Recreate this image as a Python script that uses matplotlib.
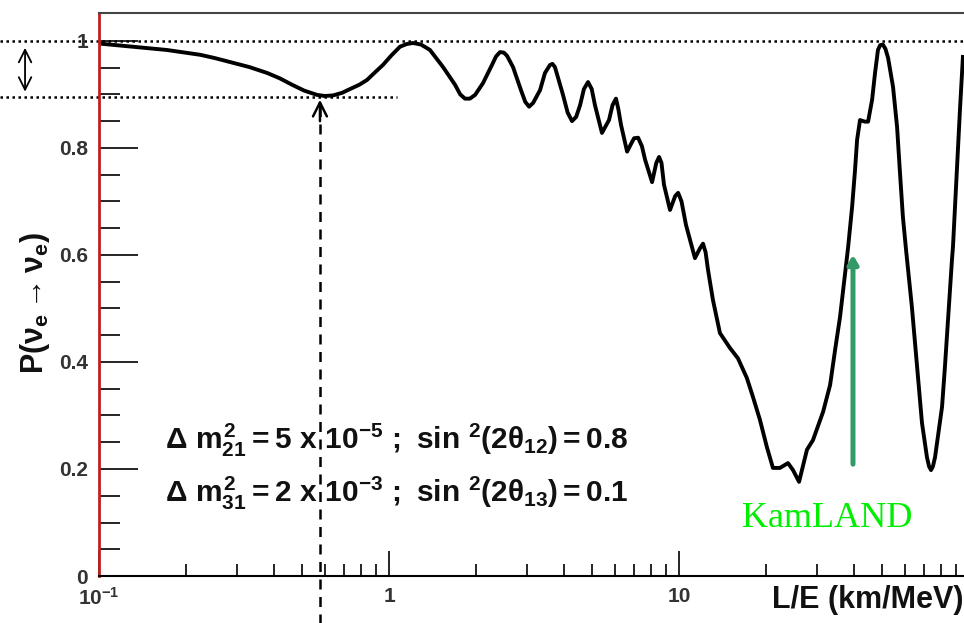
import matplotlib
matplotlib.use('Agg')
import matplotlib.pyplot as plt
import numpy as np

plt.rcParams['font.family'] = ['Liberation Sans', 'DejaVu Sans']
plt.rcParams['font.weight'] = 'bold'
plt.rcParams['mathtext.fontset'] = 'custom'
for k in ['rm', 'it', 'bf', 'sf']:
    plt.rcParams['mathtext.' + k] = 'Liberation Sans:bold'

# survival probability, L/E in km/MeV
le = [0.1, 0.131, 0.171, 0.223, 0.25, 0.290, 0.33, 0.380, 0.42, 0.463,
      0.51, 0.565, 0.60, 0.641, 0.69, 0.734, 0.79, 0.840, 0.89, 0.953,
      1.02, 1.091, 1.15, 1.210, 1.29, 1.384, 1.536, 1.689, 1.76, 1.828,
      1.90, 1.981, 2.109, 2.265, 2.34, 2.415, 2.49, 2.553, 2.677, 2.851,
      2.95, 3.041, 3.14, 3.318, 3.45, 3.591, 3.66, 3.734, 3.981, 4.13,
      4.276, 4.42, 4.560, 4.70, 4.856, 5.0, 5.130, 5.424, 5.736, 5.9,
      6.063, 6.18, 6.310, 6.622, 6.887, 7.0, 7.228, 7.45, 7.638, 8.074,
      8.35, 8.535, 8.7, 8.877, 9.311, 9.7, 9.931, 10.2, 10.57, 11.35,
      11.8, 12.10, 12.35, 12.59, 13.09, 13.84, 14.99, 15.96, 17.14, 17.98,
      19.01, 20.09, 21.08, 22.28, 23.76, 24.72, 25.94, 27.62, 28.97, 31.40,
      33.19, 34.52, 35.91, 37.35, 38.27, 39.53, 40.46, 41.12, 42.09, 43.76,
      44.87, 46.33, 47.42, 48.53, 49.4, 50.46, 51.5, 52.60, 54.70, 56.49,
      57.81, 59.16, 60.67, 63.53, 66.20, 68.84, 71.61, 72.8, 73.95, 75.1,
      76.36, 80.72, 82.60, 84.74, 87.34, 88.04, 90.93, 93.06, 95.28]
prob = [0.995, 0.989, 0.983, 0.974, 0.968, 0.959, 0.951, 0.940, 0.930, 0.918,
        0.907, 0.899, 0.897, 0.898, 0.903, 0.910, 0.918, 0.927, 0.940, 0.955,
        0.973, 0.989, 0.994, 0.996, 0.993, 0.983, 0.951, 0.918, 0.900, 0.892,
        0.892, 0.899, 0.921, 0.955, 0.971, 0.979, 0.978, 0.972, 0.951, 0.908,
        0.886, 0.877, 0.884, 0.908, 0.940, 0.955, 0.957, 0.951, 0.899, 0.866,
        0.850, 0.858, 0.880, 0.910, 0.923, 0.910, 0.880, 0.828, 0.852, 0.880,
        0.892, 0.872, 0.843, 0.793, 0.811, 0.818, 0.819, 0.803, 0.778, 0.736,
        0.772, 0.783, 0.772, 0.731, 0.684, 0.710, 0.716, 0.700, 0.656, 0.594,
        0.612, 0.621, 0.605, 0.572, 0.516, 0.454, 0.426, 0.407, 0.370, 0.335,
        0.292, 0.241, 0.202, 0.202, 0.211, 0.198, 0.176, 0.236, 0.254, 0.307,
        0.357, 0.422, 0.484, 0.563, 0.613, 0.690, 0.759, 0.815, 0.852, 0.849,
        0.849, 0.890, 0.940, 0.983, 0.992, 0.993, 0.985, 0.968, 0.914, 0.839,
        0.753, 0.671, 0.609, 0.503, 0.391, 0.286, 0.222, 0.205, 0.198, 0.205,
        0.222, 0.316, 0.391, 0.484, 0.591, 0.615, 0.764, 0.871, 0.970]

# reference marks
p_top = 1.0
p_first_min = 0.895
le_first_min = 0.578
le_kamland = 39.8
kam_arrow = (0.209, 0.600)

line1 = r'$\Delta\ m^2_{21} = 5\ x\ 10^{-5}\ ;\ sin\ ^2(2\theta_{12}) = 0.8$'
line2 = r'$\Delta\ m^2_{31} = 2\ x\ 10^{-3}\ ;\ sin\ ^2(2\theta_{13}) = 0.1$'

fig = plt.figure(figsize=(9.64, 6.23), dpi=100)
ax = fig.add_axes([0.1027, 0.0754, 0.9025, 0.9037])

ax.plot(le, prob, color='black', lw=2.8, solid_joinstyle='round')

ax.set_xscale('log')
ax.set_xlim(0.1, 100)
ax.set_ylim(0, 1.052)

ax.set_xticks([0.1, 1, 10], [r'$10^{-1}$', '1', '10'])
ax.set_xticks([a * b for b in [0.1, 1, 10] for a in range(2, 10)], minor=True)
ax.xaxis.set_minor_formatter(plt.NullFormatter())
ax.set_yticks([0, 0.2, 0.4, 0.6, 0.8, 1.0], ['0', '0.2', '0.4', '0.6', '0.8', '1'])
ax.set_yticks(np.arange(0, 1.05, 0.05), minor=True)

ax.tick_params(axis='x', which='major', direction='in', length=18, width=1.2,
               pad=8, labelsize=15, labelcolor='#333333')
ax.tick_params(axis='x', which='minor', direction='in', length=9, width=1.2)
ax.tick_params(axis='y', which='major', direction='in', length=28, width=1.2,
               pad=8, labelsize=15, labelcolor='#333333')
ax.tick_params(axis='y', which='minor', direction='in', length=15, width=1.2)

ax.spines['right'].set_visible(False)
ax.spines['top'].set_color('#444444')
ax.spines['top'].set_linewidth(1.5)
ax.spines['bottom'].set_linewidth(1.5)
ax.spines['left'].set_color('#c02020')
ax.spines['left'].set_linewidth(2)

# dotted guide lines at 1 and at the first dip
ytr = ax.get_yaxis_transform()
ax.plot([-0.114, 1.0], [p_top, p_top], transform=ytr, clip_on=False,
        color='black', lw=1.8, ls=(0, (1, 1.4)))
ax.plot([-0.114, 0.3425], [p_first_min, p_first_min], transform=ytr, clip_on=False,
        color='black', lw=1.8, ls=(0, (1, 1.4)))
ax.annotate('', xy=(-0.085, 0.987), xytext=(-0.085, 0.905), xycoords=ytr,
            textcoords=ytr, annotation_clip=False,
            arrowprops=dict(arrowstyle='<->,head_length=0.9,head_width=0.45',
                            lw=1.3, color='black', shrinkA=0, shrinkB=0))

# dashed marker under the first dip
ax.plot([le_first_min, le_first_min], [-0.09, 0.885], color='black', lw=1.8,
        ls=(0, (4, 3)), clip_on=False)
ax.annotate('', xy=(le_first_min, 0.89), xytext=(le_first_min, 0.85),
            arrowprops=dict(arrowstyle='->,head_length=1.0,head_width=0.5',
                            lw=1.8, color='black', shrinkA=0, shrinkB=0))

# KamLAND arrow
ax.annotate('', xy=(le_kamland, kam_arrow[1]), xytext=(le_kamland, kam_arrow[0]),
            arrowprops=dict(arrowstyle='-|>,head_length=0.5,head_width=0.3',
                            lw=3.6, color='#339966', shrinkA=0, shrinkB=0))
ax.text(32.4, 0.108, 'KamLAND', color='#00ee00', fontsize=26,
        family='Liberation Serif', fontweight='normal', ha='center', va='center')

ax.text(0.076, 0.254, line1, transform=ytr, fontsize=21.5, ha='left', va='center',
        color='#111111')
ax.text(0.076, 0.155, line2, transform=ytr, fontsize=21.5, ha='left', va='center',
        color='#111111')

fig.text(0.999, 0.037, 'L/E (km/MeV)', ha='right', va='center', fontsize=22,
         color='#111111')
fig.text(0.036, 0.514, r'$P(\nu_e \rightarrow \nu_e)$', rotation=90,
         ha='center', va='center', fontsize=22, color='#111111')

fig.savefig('out.png', dpi=100)
